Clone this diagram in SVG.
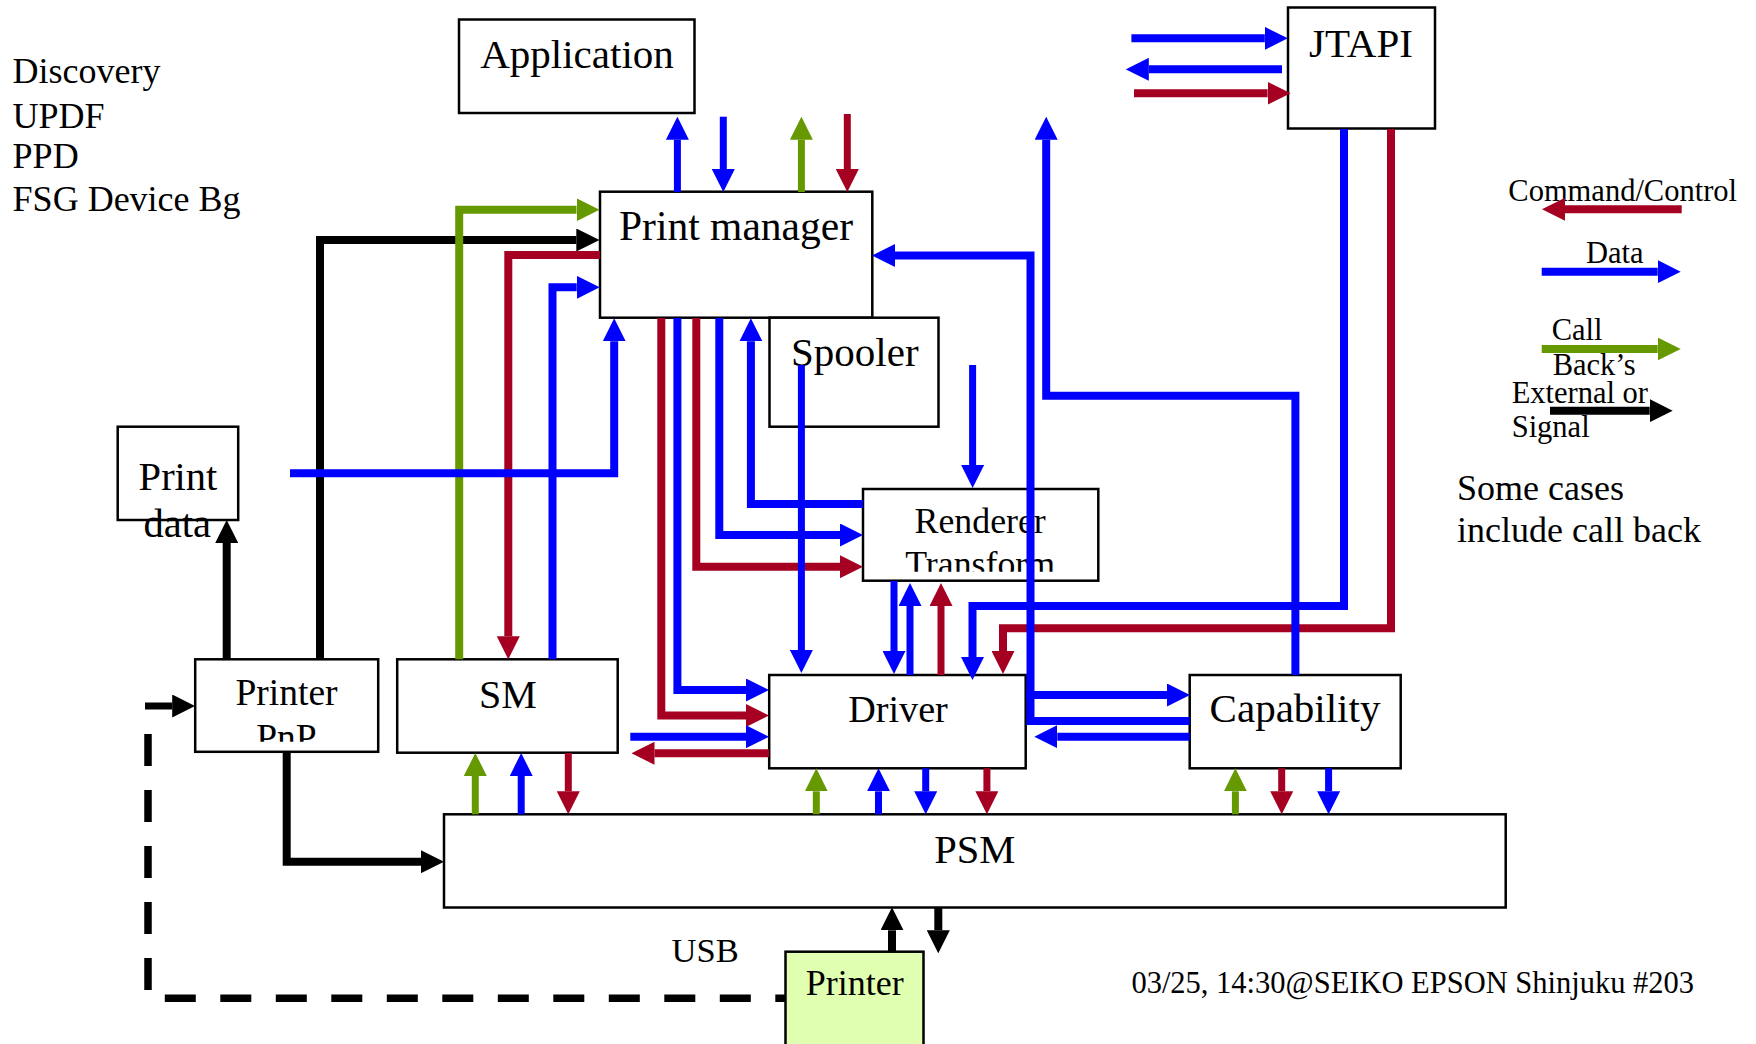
<svg xmlns="http://www.w3.org/2000/svg" width="1756" height="1044" viewBox="0 0 1756 1044">
<style>
.box{fill:#fff;stroke:#000;stroke-width:2.5}
.t{font-family:"Liberation Serif","Times New Roman",serif;fill:#000}
.m{text-anchor:middle}
.c{fill:none;stroke-width:8;stroke-linecap:butt;stroke-linejoin:miter}
.th{stroke-width:7}
.b{stroke:#0000ff;marker-end:url(#ab)}
.r{stroke:#a50021;marker-end:url(#ar)}
.g{stroke:#669900;marker-end:url(#ag)}
.k{stroke:#000;marker-end:url(#ak)}
.d{fill:none;stroke:#000;stroke-width:7.5}
</style>
<defs>
<marker id="ab" markerUnits="userSpaceOnUse" markerWidth="23" markerHeight="23" viewBox="0 -11.5 23 23" refX="0" refY="0" orient="auto"><path d="M0,-11.5 L23,0 L0,11.5 Z" fill="#0000ff"/></marker>
<marker id="ar" markerUnits="userSpaceOnUse" markerWidth="23" markerHeight="23" viewBox="0 -11.5 23 23" refX="0" refY="0" orient="auto"><path d="M0,-11.5 L23,0 L0,11.5 Z" fill="#a50021"/></marker>
<marker id="ag" markerUnits="userSpaceOnUse" markerWidth="23" markerHeight="23" viewBox="0 -11.5 23 23" refX="0" refY="0" orient="auto"><path d="M0,-11.5 L23,0 L0,11.5 Z" fill="#669900"/></marker>
<marker id="ak" markerUnits="userSpaceOnUse" markerWidth="23" markerHeight="23" viewBox="0 -11.5 23 23" refX="0" refY="0" orient="auto"><path d="M0,-11.5 L23,0 L0,11.5 Z" fill="#000"/></marker>
<clipPath id="clipRT"><rect x="863" y="489" width="236" height="82.7"/></clipPath>
<clipPath id="clipPnP"><rect x="195" y="659" width="184" height="82.7"/></clipPath>
</defs>

<g id="notes">
<text class="t" x="12.6" y="83" font-size="36">Discovery</text>
<text class="t" x="12.6" y="128.3" font-size="36">UPDF</text>
<text class="t" x="12.6" y="168.3" font-size="36">PPD</text>
<text class="t" x="12.6" y="210.7" font-size="36">FSG Device Bg</text>
<text class="t" x="671.6" y="961.7" font-size="34.5">USB</text>
<text class="t" x="1457" y="500" font-size="36">Some cases</text>
<text class="t" x="1457" y="541.7" font-size="36">include call back</text>
<text class="t" x="1131.4" y="993.3" font-size="30.5">03/25, 14:30@SEIKO EPSON Shinjuku #203</text>
</g>

<g id="application">
<rect class="box" x="459" y="19.5" width="235.5" height="93.5"/>
<text class="t m" x="577" y="68" font-size="41">Application</text>
</g>
<g id="print-manager">
<rect class="box" x="600" y="191.7" width="272.3" height="126"/>
<text class="t m" x="736" y="240" font-size="41.5">Print manager</text>
</g>
<g id="jtapi">
<rect class="box" x="1288" y="7.5" width="147" height="121"/>
<text class="t m" x="1361" y="57" font-size="41">JTAPI</text>
</g>
<g id="spooler">
<rect class="box" x="769.5" y="317.7" width="169" height="109"/>
<text class="t m" x="854.8" y="366" font-size="41">Spooler</text>
</g>
<g id="print-data">
<rect class="box" x="117.7" y="426.7" width="120.5" height="93.3"/>
<text class="t m" x="178" y="490" font-size="40.5">Print</text>
<text class="t m" x="177.3" y="537" font-size="40.5">data</text>
</g>
<g id="renderer-transform">
<rect class="box" x="863" y="489" width="235.3" height="91.7"/>
<g clip-path="url(#clipRT)">
<text class="t m" x="980.2" y="532.7" font-size="35.8">Renderer</text>
<text class="t m" x="980.2" y="575.5" font-size="35.8">Transform</text>
</g>
</g>
<g id="printer-pnp">
<rect class="box" x="195.2" y="659.3" width="183" height="92.5"/>
<g clip-path="url(#clipPnP)">
<text class="t m" x="286.5" y="705" font-size="37.5">Printer</text>
<text class="t m" x="286.5" y="749.5" font-size="37.5">PnP</text>
</g>
</g>
<g id="sm">
<rect class="box" x="397.2" y="659.3" width="220.5" height="93.4"/>
<text class="t m" x="508" y="708.3" font-size="40">SM</text>
</g>
<g id="driver">
<rect class="box" x="769.2" y="675" width="256.5" height="93.3"/>
<text class="t m" x="898" y="721.7" font-size="38.2">Driver</text>
</g>
<g id="capability">
<rect class="box" x="1189.7" y="675" width="211" height="93.3"/>
<text class="t m" x="1295" y="721.7" font-size="41">Capability</text>
</g>
<g id="psm">
<rect class="box" x="444" y="814.3" width="1061.7" height="93.2"/>
<text class="t m" x="974.7" y="862.7" font-size="40.5">PSM</text>
</g>

<g id="connectors">
<!-- Application <-> Print manager -->
<path class="c th b" d="M677.4,192 V139.7"/>
<path class="c th b" d="M723.3,116.7 V169"/>
<path class="c th g" d="M801.4,192 V139.7"/>
<path class="c th r" d="M847.3,114 V169"/>
<!-- JTAPI side arrows -->
<path class="c b" d="M1131.4,38.3 H1264.8"/>
<path class="c b" d="M1282,69.3 H1148.8"/>
<path class="c r" d="M1134,93.3 H1267.6"/>
<!-- JTAPI down to Driver -->
<path class="c b" d="M1344,129 V606 H972.5 V657"/>
<path class="c r" d="M1391,129 V628.3 H1003 V651"/>
<!-- Left side into Print manager -->
<path class="c k" d="M320,659.3 V240 H576.3"/>
<path class="c g" d="M459.2,659.3 V209.7 H576.5"/>
<path class="c r" d="M600,255 H508.3 V636.3"/>
<path class="c b" d="M552.5,659.3 V287.3 H576.7"/>
<!-- Print data -->
<path class="c b" d="M290,473.3 H614.2 V341.3"/>
<path class="c k" d="M226.7,659.3 V543"/>
<!-- Print manager bottom -->
<path class="c r" d="M661.3,318 V715.5 H746"/>
<path class="c b" d="M677.4,318 V690 H746"/>
<path class="c r" d="M696.3,318 V566.7 H840"/>
<path class="c b" d="M719.3,318 V535 H840"/>
<path class="c b" d="M863,504 H750.9 V341.3"/>
<!-- Spooler -->
<path class="c th b" d="M801.4,365 V650"/>
<path class="c th b" d="M972.6,365 V465"/>
<!-- Renderer <-> Driver -->
<path class="c th b" d="M894,581 V651"/>
<path class="c th b" d="M910,675 V606"/>
<path class="c th r" d="M941,675 V606"/>
<!-- Capability / Print manager right -->
<path class="c b" d="M1189.7,721 H1030.5 V255.5 H895"/>
<path class="c b" d="M1026,695 H1167"/>
<path class="c b" d="M1189.7,736.7 H1057.3"/>
<path class="c b" d="M1295.4,675 V395.8 H1046.2 V139.7"/>
<!-- SM <-> Driver -->
<path class="c b" d="M630.3,736.7 H746"/>
<path class="c r" d="M769,753.3 H654.5"/>
<!-- SM <-> PSM -->
<path class="c th g" d="M475.3,814.3 V776"/>
<path class="c th b" d="M521.2,814.3 V776"/>
<path class="c th r" d="M568.3,753 V791.3"/>
<!-- Driver <-> PSM -->
<path class="c th g" d="M816.3,814.3 V791.3"/>
<path class="c th b" d="M878.5,814.3 V791.3"/>
<path class="c th b" d="M925.7,768.3 V791.3"/>
<path class="c th r" d="M986.9,768.3 V791.3"/>
<!-- Capability <-> PSM -->
<path class="c th g" d="M1235.4,814.3 V791.3"/>
<path class="c th r" d="M1281.7,768.3 V791.3"/>
<path class="c th b" d="M1328.6,768.3 V791.3"/>
<!-- Printer PnP -> PSM -->
<path class="c k" d="M286.7,751.7 V861.7 H421"/>
<!-- PSM <-> Printer -->
<path class="c k" d="M892,951.7 V930.3"/>
<path class="c k" d="M938.3,907.3 V930.3"/>
<!-- dashed USB link Printer -> Printer PnP -->
<path class="d" d="M148,990 V734" stroke-dasharray="32 24"/>
<path class="d" d="M164.8,998.3 H785.5" stroke-dasharray="31 24.5"/>
<path class="c th k" d="M145,706 H172.2"/>
</g>

<g id="printer">
<rect x="785.5" y="951.7" width="138" height="110" fill="#e0ffb0" stroke="#000" stroke-width="2.5"/>
<text class="t m" x="854.7" y="995" font-size="36">Printer</text>
</g>

<g id="legend">
<text class="t" x="1508.3" y="200.7" font-size="30.5">Command/Control</text>
<path class="c r" d="M1681.7,209.3 H1565"/>
<text class="t" x="1586" y="262.7" font-size="30.5">Data</text>
<path class="c b" d="M1541.7,271.7 H1657.7"/>
<text class="t" x="1551.7" y="340" font-size="30.5">Call</text>
<path class="c g" d="M1541.7,349 H1657.7"/>
<text class="t" x="1552.7" y="375" font-size="30.5">Back’s</text>
<text class="t" x="1511.7" y="402.7" font-size="30.5">External or</text>
<path class="c k" d="M1550,410.7 H1649.7"/>
<text class="t" x="1511.7" y="436.7" font-size="30.5">Signal</text>
</g>
</svg>
